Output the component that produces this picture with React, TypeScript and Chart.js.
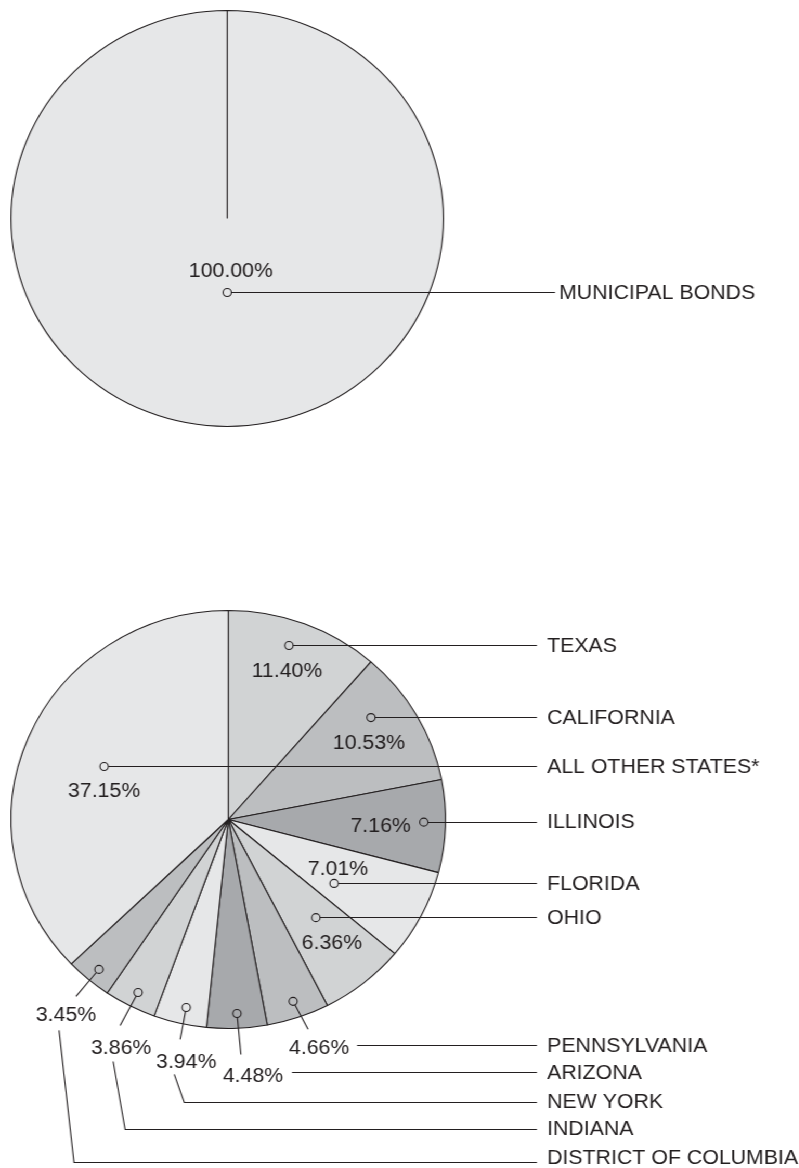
import React, { useEffect, useRef } from 'react';
import { Chart, registerables } from 'chart.js';

Chart.register(...registerables);

// ---------- data ----------
const topCategories = ['MUNICIPAL BONDS'];
const topValues = [100.0];

const stateCategories = [
  'TEXAS',
  'CALIFORNIA',
  'ILLINOIS',
  'FLORIDA',
  'OHIO',
  'PENNSYLVANIA',
  'ARIZONA',
  'NEW YORK',
  'INDIANA',
  'DISTRICT OF COLUMBIA',
  'ALL OTHER STATES*',
];
const stateValues = [11.4, 10.53, 7.16, 7.01, 6.36, 4.66, 4.48, 3.94, 3.86, 3.45, 37.15];

// ---------- styles ----------
const INK = '#231f20';
const G10 = '#e6e7e8';
const G20 = '#d1d3d4';
const G30 = '#bcbec0';
const G40 = '#a7a9ac';
const topColors = [G10];
const stateColors = [G20, G30, G40, G10, G20, G30, G40, G10, G20, G30, G10];

const SX = 1.04; // horizontal stretch of the whole picture
const CW = 768; // canvas width (before stretch)
const FONT_SIZE = 20.5;
const FONT = `${FONT_SIZE}px "Liberation Sans", Arial, Helvetica, sans-serif`;
const MR = 4; // marker radius

type Callout = {
  r: number; // radial fraction of the marker
  t: number; // angular fraction within the slice
  label: [number, number]; // percent label centre, relative to marker
  align?: CanvasTextAlign;
  lead1?: [number, number]; // end of first leader, relative to marker
  lead2?: [number, number]; // start of second leader, relative to label centre
  bend?: number; // x of the bend, relative to label centre
  rowY?: number; // y of the row line (canvas px) when bent
  textDy?: number;
};

const topCallouts: Callout[] = [{ r: 0.356, t: 0.5, label: [3.5, -23] }];

const stateCallouts: Callout[] = [
  { r: 0.878, t: 0.452, label: [-1.9, 24] }, // Texas
  { r: 0.818, t: 0.326, label: [-1.9, 24] }, // California
  { r: 0.9, t: 0.46, label: [-12.5, 3], align: 'right' }, // Illinois
  { r: 0.575, t: 0.69, label: [3.8, -16] }, // Florida
  { r: 0.619, t: 0.41, label: [15.4, 24] }, // Ohio
  { r: 0.92, t: 0.49, label: [25, 45], lead1: [14.4, 28], lead2: [36.5, -1] }, // Pennsylvania
  { r: 0.929, t: 0.49, label: [15.4, 61], lead1: [3.8, 41], lead2: [37.5, -2] }, // Arizona
  { r: 0.92, t: 0.45, label: [0, 53], lead1: [-5.8, 32], lead2: [-11.5, 14], bend: -1.9, rowY: 632 }, // New York
  { r: 0.926, t: 0.48, label: [-16.3, 54], lead1: [-17.3, 33], lead2: [-7.7, 15], bend: 3.8, rowY: 659 }, // Indiana
  { r: 0.932, t: 0.47, label: [-31.7, 44.5], lead1: [-22.1, 27], lead2: [-6.7, 16.5], bend: 7.7, rowY: 692, textDy: -5 }, // DC
  { r: 0.625, t: 0.506, label: [0, 23] }, // All other
];

const snap = (v: number) => Math.round(v - 0.5) + 0.5;

function drawText(ctx: CanvasRenderingContext2D, text: string, x: number, cy: number, align: CanvasTextAlign) {
  ctx.textAlign = align;
  ctx.textBaseline = 'alphabetic';
  ctx.fillText(text, x, cy + FONT_SIZE * 0.358);
}

function polyline(ctx: CanvasRenderingContext2D, pts: [number, number][]) {
  ctx.beginPath();
  pts.forEach(([x, y], i) => (i === 0 ? ctx.moveTo(x, y) : ctx.lineTo(x, y)));
  ctx.stroke();
}

function calloutPlugin(callouts: Callout[], lineEnd: number, textX: number) {
  return {
    id: 'callouts',
    afterDatasetsDraw(chart: any) {
      const ctx: CanvasRenderingContext2D = chart.ctx;
      const meta = chart.getDatasetMeta(0);
      const labels = chart.data.labels as string[];
      const values = chart.data.datasets[0].data as number[];
      ctx.save();
      ctx.strokeStyle = INK;
      ctx.fillStyle = INK;
      ctx.lineWidth = 1.1;
      ctx.font = FONT;
      meta.data.forEach((el: any, i: number) => {
        const c = callouts[i];
        if (!c) return;
        const p = el.getProps(['x', 'y', 'startAngle', 'endAngle', 'outerRadius'], true);
        const a = p.startAngle + c.t * (p.endAngle - p.startAngle);
        const mx = p.x + Math.cos(a) * c.r * p.outerRadius;
        const my = p.y + Math.sin(a) * c.r * p.outerRadius;
        ctx.beginPath();
        ctx.arc(mx, my, MR, 0, Math.PI * 2);
        ctx.stroke();
        const lx = mx + c.label[0];
        const ly = my + c.label[1];
        drawText(ctx, values[i].toFixed(2) + '%', lx, ly, c.align || 'center');
        let rowY: number;
        if (!c.lead1) {
          const y = snap(my);
          polyline(ctx, [
            [mx + MR, y],
            [lineEnd, y],
          ]);
          rowY = my;
        } else {
          const d = Math.hypot(c.lead1[0], c.lead1[1]);
          polyline(ctx, [
            [mx + (c.lead1[0] / d) * MR, my + (c.lead1[1] / d) * MR],
            [mx + c.lead1[0], my + c.lead1[1]],
          ]);
          const sx = lx + (c.lead2 ? c.lead2[0] : 0);
          const sy = ly + (c.lead2 ? c.lead2[1] : 0);
          if (c.bend !== undefined && c.rowY !== undefined) {
            rowY = c.rowY;
            const y = snap(rowY);
            polyline(ctx, [
              [sx, sy],
              [lx + c.bend, y],
              [lineEnd, y],
            ]);
          } else {
            rowY = sy;
            const y = snap(sy);
            polyline(ctx, [
              [sx, y],
              [lineEnd, y],
            ]);
          }
        }
        drawText(ctx, labels[i], textX, rowY + (c.textDy ?? -1), 'left');
      });
      ctx.restore();
    },
  };
}

function makePie(
  canvas: HTMLCanvasElement,
  labels: string[],
  values: number[],
  colors: string[],
  padding: { left: number; top: number; right: number; bottom: number },
  plugin: any
) {
  return new Chart(canvas, {
    type: 'pie',
    data: {
      labels,
      datasets: [
        {
          data: values,
          backgroundColor: colors,
          borderColor: INK,
          borderWidth: 1.1,
          hoverOffset: 0,
        },
      ],
    },
    options: {
      animation: false,
      responsive: false,
      events: [],
      layout: { padding },
      plugins: {
        legend: { display: false },
        tooltip: { enabled: false },
      },
    },
    plugins: [plugin],
  } as any);
}

export default function App() {
  const topRef = useRef<HTMLCanvasElement>(null);
  const botRef = useRef<HTMLCanvasElement>(null);

  useEffect(() => {
    const charts: Chart[] = [];
    if (topRef.current) {
      charts.push(
        makePie(
          topRef.current,
          topCategories,
          topValues,
          topColors,
          { left: 10, top: 10, right: CW - 10 - 417, bottom: 470 - 10 - 417 },
          calloutPlugin(topCallouts, 533.7, 537.5)
        )
      );
    }
    if (botRef.current) {
      charts.push(
        makePie(
          botRef.current,
          stateCategories,
          stateValues,
          stateColors,
          { left: 10, top: 140, right: CW - 10 - 419, bottom: 698 - 140 - 419 },
          calloutPlugin(stateCallouts, 516.3, 526)
        )
      );
    }
    return () => charts.forEach((c) => c.destroy());
  }, []);

  return (
    <div
      style={{
        position: 'absolute',
        left: 0,
        top: 0,
        width: CW,
        height: 1168,
        transform: `scaleX(${SX})`,
        transformOrigin: '0 0',
        background: '#fff',
      }}
    >
      <canvas ref={topRef} width={CW} height={470} style={{ display: 'block' }} />
      <canvas ref={botRef} width={CW} height={698} style={{ display: 'block' }} />
    </div>
  );
}
